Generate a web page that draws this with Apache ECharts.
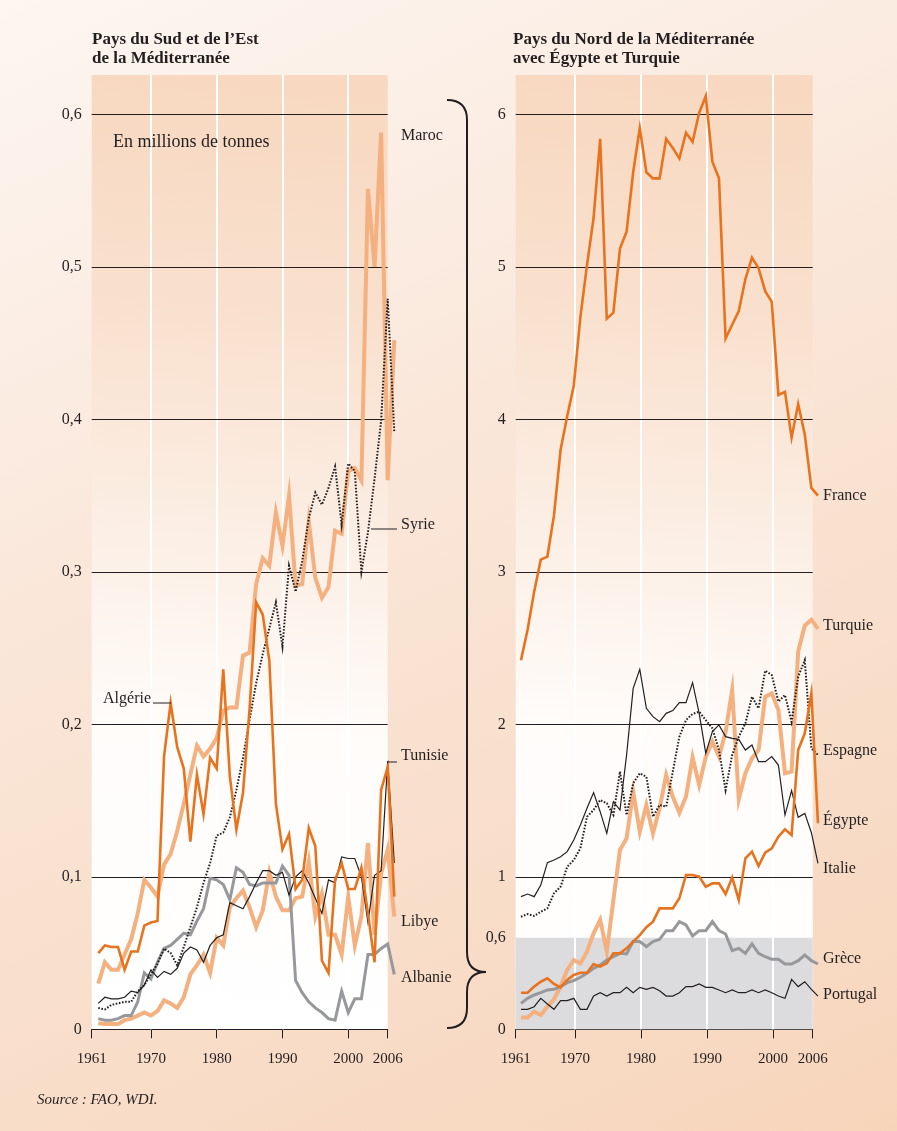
<!DOCTYPE html>
<html>
<head>
<meta charset="utf-8">
<title>Méditerranée - production</title>
<script src="https://cdn.jsdelivr.net/npm/echarts@6/dist/echarts.min.js"></script>
<style>
    html, body { margin: 0; padding: 0; }
    #chart {
        width: 897px; height: 1131px;
        background: linear-gradient(155deg, #fdf6f1 0%, #fae7da 40%, #f7d5bb 100%);
    }
</style>
</head>
<body>
<div id="chart"></div>
<script>
// years of the series (1961-2006)
var years = [1961, 1962, 1963, 1964, 1965, 1966, 1967, 1968, 1969, 1970,
    1971, 1972, 1973, 1974, 1975, 1976, 1977, 1978, 1979, 1980,
    1981, 1982, 1983, 1984, 1985, 1986, 1987, 1988, 1989, 1990,
    1991, 1992, 1993, 1994, 1995, 1996, 1997, 1998, 1999, 2000,
    2001, 2002, 2003, 2004, 2005, 2006];
var xTicks = [1961, 1970, 1980, 1990, 2000, 2006];
var leftTicks = [0, 0.1, 0.2, 0.3, 0.4, 0.5, 0.6];
var rightTicks = [0, 0.6, 1, 2, 3, 4, 5, 6];
var rightGrid = [1, 2, 3, 4, 5, 6];

// Pays du Sud et de l'Est (millions de tonnes)
var maroc = [0.030, 0.044, 0.039, 0.039, 0.049, 0.059, 0.076, 0.098, 0.093, 0.087,
    0.108, 0.115, 0.130, 0.148, 0.167, 0.186, 0.179, 0.184, 0.191, 0.209,
    0.211, 0.211, 0.245, 0.247, 0.292, 0.309, 0.304, 0.339, 0.317, 0.350,
    0.291, 0.292, 0.333, 0.296, 0.283, 0.290, 0.327, 0.325, 0.366, 0.368,
    0.360, 0.551, 0.500, 0.588, 0.360, 0.452];
var syrie = [0.014, 0.013, 0.016, 0.017, 0.018, 0.018, 0.025, 0.029, 0.036, 0.043,
    0.053, 0.050, 0.042, 0.054, 0.067, 0.080, 0.096, 0.109, 0.127, 0.129,
    0.139, 0.157, 0.178, 0.203, 0.227, 0.246, 0.263, 0.280, 0.251, 0.304,
    0.287, 0.307, 0.335, 0.352, 0.344, 0.355, 0.369, 0.331, 0.371, 0.366,
    0.300, 0.326, 0.361, 0.399, 0.479, 0.392];
var algerie = [0.050, 0.055, 0.054, 0.054, 0.039, 0.051, 0.051, 0.068, 0.070, 0.071,
    0.179, 0.214, 0.185, 0.171, 0.123, 0.167, 0.141, 0.178, 0.171, 0.236,
    0.166, 0.131, 0.155, 0.210, 0.280, 0.272, 0.242, 0.148, 0.118, 0.128,
    0.092, 0.098, 0.132, 0.120, 0.045, 0.037, 0.098, 0.109, 0.092, 0.092,
    0.106, 0.076, 0.044, 0.157, 0.172, 0.087];
var tunisie = [0.017, 0.021, 0.020, 0.020, 0.021, 0.025, 0.024, 0.029, 0.039, 0.034,
    0.038, 0.036, 0.040, 0.050, 0.054, 0.052, 0.044, 0.055, 0.060, 0.062,
    0.083, 0.081, 0.079, 0.087, 0.096, 0.104, 0.104, 0.101, 0.103, 0.088,
    0.100, 0.104, 0.096, 0.086, 0.076, 0.098, 0.096, 0.113, 0.112, 0.112,
    0.100, 0.070, 0.101, 0.104, 0.176, 0.109];
var libye = [0.004, 0.0035, 0.0035, 0.0035, 0.006, 0.007, 0.009, 0.011, 0.009, 0.012,
    0.019, 0.017, 0.014, 0.021, 0.036, 0.042, 0.049, 0.037, 0.060, 0.055,
    0.080, 0.086, 0.091, 0.080, 0.067, 0.078, 0.103, 0.087, 0.078, 0.078,
    0.086, 0.087, 0.110, 0.074, 0.089, 0.062, 0.062, 0.049, 0.087, 0.055,
    0.074, 0.122, 0.062, 0.102, 0.118, 0.074];
var albanie = [0.007, 0.006, 0.006, 0.007, 0.009, 0.009, 0.018, 0.037, 0.033, 0.044,
    0.053, 0.055, 0.059, 0.063, 0.062, 0.071, 0.079, 0.099, 0.098, 0.095,
    0.085, 0.106, 0.103, 0.095, 0.094, 0.096, 0.096, 0.096, 0.107, 0.101,
    0.032, 0.024, 0.018, 0.014, 0.011, 0.007, 0.006, 0.025, 0.011, 0.020,
    0.020, 0.049, 0.049, 0.053, 0.056, 0.036];

// Pays du Nord, Egypte et Turquie
var france = [2.42, 2.62, 2.87, 3.08, 3.10, 3.37, 3.80, 4.02, 4.22, 4.67,
    5.01, 5.32, 5.84, 4.66, 4.70, 5.12, 5.23, 5.62, 5.91, 5.62,
    5.58, 5.58, 5.84, 5.78, 5.71, 5.88, 5.82, 6.01, 6.12, 5.69,
    5.58, 4.53, 4.62, 4.71, 4.92, 5.06, 4.99, 4.84, 4.77, 4.16,
    4.18, 3.88, 4.10, 3.90, 3.55, 3.50];
var turquie = [0.078, 0.078, 0.116, 0.094, 0.148, 0.197, 0.280, 0.389, 0.454, 0.432,
    0.509, 0.629, 0.717, 0.509, 0.848, 1.176, 1.252, 1.558, 1.296, 1.471,
    1.285, 1.449, 1.668, 1.525, 1.420, 1.525, 1.783, 1.602, 1.787, 1.886,
    1.787, 1.950, 2.225, 1.508, 1.679, 1.777, 1.832, 2.181, 2.203, 2.094,
    1.679, 1.690, 2.478, 2.647, 2.686, 2.626];
var espagne = [0.738, 0.756, 0.743, 0.771, 0.793, 0.892, 0.935, 1.066, 1.110, 1.187,
    1.394, 1.438, 1.504, 1.482, 1.405, 1.690, 1.405, 1.613, 1.679, 1.656,
    1.394, 1.471, 1.460, 1.690, 1.919, 2.028, 2.068, 2.083, 2.028, 1.974,
    1.831, 1.569, 1.798, 1.919, 2.006, 2.181, 2.105, 2.352, 2.323, 2.149,
    2.192, 2.017, 2.312, 2.421, 1.842, 1.799];
var egypte = [0.240, 0.240, 0.280, 0.312, 0.334, 0.297, 0.275, 0.323, 0.356, 0.371,
    0.371, 0.428, 0.411, 0.433, 0.498, 0.498, 0.531, 0.575, 0.618, 0.669,
    0.706, 0.793, 0.793, 0.793, 0.859, 1.012, 1.012, 1.001, 0.935, 0.957,
    0.957, 0.887, 0.996, 0.848, 1.121, 1.165, 1.071, 1.158, 1.187, 1.263,
    1.311, 1.274, 1.832, 1.941, 2.203, 1.351];
var italie = [0.870, 0.887, 0.870, 0.946, 1.093, 1.110, 1.132, 1.165, 1.241, 1.340,
    1.449, 1.552, 1.427, 1.285, 1.493, 1.438, 1.798, 2.236, 2.360, 2.105,
    2.050, 2.017, 2.072, 2.090, 2.142, 2.142, 2.273, 2.072, 1.810, 1.952,
    1.996, 1.919, 1.908, 1.901, 1.831, 1.864, 1.755, 1.755, 1.788, 1.733,
    1.405, 1.565, 1.390, 1.416, 1.289, 1.088];
var grece = [0.170, 0.203, 0.225, 0.240, 0.258, 0.262, 0.280, 0.306, 0.319, 0.341,
    0.367, 0.400, 0.422, 0.454, 0.476, 0.498, 0.494, 0.575, 0.575, 0.542,
    0.575, 0.590, 0.647, 0.647, 0.706, 0.684, 0.612, 0.647, 0.647, 0.706,
    0.647, 0.625, 0.516, 0.531, 0.498, 0.560, 0.498, 0.476, 0.459, 0.459,
    0.428, 0.428, 0.450, 0.487, 0.450, 0.428];
var portugal = [0.131, 0.131, 0.148, 0.203, 0.166, 0.131, 0.188, 0.188, 0.203, 0.131,
    0.131, 0.218, 0.240, 0.218, 0.240, 0.240, 0.275, 0.240, 0.275, 0.262,
    0.275, 0.253, 0.218, 0.218, 0.240, 0.280, 0.280, 0.297, 0.275, 0.275,
    0.258, 0.240, 0.258, 0.240, 0.240, 0.258, 0.240, 0.258, 0.240, 0.218,
    0.203, 0.327, 0.280, 0.312, 0.262, 0.218];

var FONT = '"Liberation Serif", "DejaVu Serif", serif';
var INK = '#231f20';
var DARK = '#e8731e';
var LIGHT = '#f4b07e';
var GREY = '#97989b';

// panel geometry: two frames, each with a slightly wider twin grid for the curves
// (the curves sit one year step right of the printed ticks, so they overrun the frame)
var PANEL_TOP = 75, PANEL_H = 954.3;
var LEFT_X = 91.7, LEFT_W = 296;
var RIGHT_X = 515.7, RIGHT_W = 297;

function pairs(values) {
    return years.map(function (y, i) { return [y, values[i]]; });
}

function decimal(v) {
    return String(Math.round(v * 10) / 10).replace('.', ',');
}

function curve(name, values, panel, style) {
    return {
        name: name,
        type: 'line',
        xAxisIndex: panel + 2,
        yAxisIndex: panel + 2,
        data: pairs(values),
        showSymbol: false,
        symbol: 'none',
        silent: true,
        z: style.z || 5,
        lineStyle: { color: style.color, width: style.width, type: style.type || 'solid', cap: 'butt', join: 'miter' }
    };
}

function hLines(values, panel) {
    return {
        type: 'line', xAxisIndex: panel, yAxisIndex: panel, data: [], silent: true, z: 3,
        markLine: {
            silent: true, symbol: ['none', 'none'], label: { show: false },
            lineStyle: { color: INK, width: 1, type: 'solid' },
            data: values.map(function (v) { return { yAxis: v }; })
        }
    };
}

function vLines(panel) {
    return {
        type: 'line', xAxisIndex: panel, yAxisIndex: panel, data: [], silent: true, z: 2,
        markLine: {
            silent: true, symbol: ['none', 'none'], label: { show: false },
            lineStyle: { color: '#ffffff', width: 2, type: 'solid' },
            data: [1970, 1980, 1990, 2000].map(function (v) { return { xAxis: v }; })
        }
    };
}

var panelFill = {
    type: 'linear', x: 0.25, y: 0, x2: 0, y2: 1,
    colorStops: [
        { offset: 0, color: '#f8d8c0' },
        { offset: 0.25, color: '#f9e1cf' },
        { offset: 0.5, color: '#fcf0e7' },
        { offset: 0.68, color: '#fffcfa' },
        { offset: 1, color: '#ffffff' }
    ]
};

function visibleX(panel) {
    return {
        type: 'value', gridIndex: panel, min: 1961, max: 2006,
        axisLine: { show: true, lineStyle: { color: INK, width: 1 } },
        axisTick: { show: true, length: 9, customValues: xTicks, lineStyle: { color: INK, width: 1 } },
        axisLabel: {
            customValues: xTicks, margin: 22, color: INK, fontFamily: FONT, fontSize: 15,
            formatter: function (v) { return String(v); }
        },
        splitLine: { show: false }
    };
}

function dataX(panel) {
    return { type: 'value', gridIndex: panel + 2, min: 1960, max: 2007, show: false };
}

function yAxisFor(panel, max, ticks) {
    return {
        type: 'value', gridIndex: panel, min: 0, max: max,
        axisLine: { show: false }, axisTick: { show: false }, splitLine: { show: false },
        axisLabel: {
            customValues: ticks, margin: 10, color: INK, fontFamily: FONT, fontSize: 16,
            padding: [0, 0, 5, 0], formatter: decimal
        }
    };
}

function dataY(panel, max) {
    return { type: 'value', gridIndex: panel + 2, min: 0, max: max, show: false };
}

function txt(text, x, y, opts) {
    opts = opts || {};
    return {
        type: 'text', x: x, y: y, silent: true, z: 20,
        style: {
            text: text, fill: INK,
            font: (opts.style || 'normal') + ' ' + (opts.weight || 'normal') + ' ' + (opts.size || 16) + 'px ' + FONT,
            align: opts.align || 'left', verticalAlign: opts.va || 'middle',
            lineHeight: opts.lh || 19
        }
    };
}

function seg(x1, y1, x2, y2, w) {
    return { type: 'line', silent: true, z: 20, shape: { x1: x1, y1: y1, x2: x2, y2: y2 }, style: { stroke: INK, lineWidth: w || 1 } };
}

function hook(x1, y1, cx, cy, x2, y2) {
    return {
        type: 'bezierCurve', silent: true, z: 20,
        shape: { x1: x1, y1: y1, cpx1: cx, cpy1: cy, x2: x2, y2: y2 },
        style: { stroke: INK, lineWidth: 2, fill: null }
    };
}

var myChart = echarts.init(document.getElementById('chart'));
var option = {
    animation: false,
    backgroundColor: 'transparent',
    grid: [
        { left: LEFT_X, top: PANEL_TOP, width: LEFT_W, height: PANEL_H, show: true, borderWidth: 0, backgroundColor: panelFill },
        { left: RIGHT_X, top: PANEL_TOP, width: RIGHT_W, height: PANEL_H, show: true, borderWidth: 0, backgroundColor: panelFill },
        // 1960 sits on the frame edge (left) or just inside it (right)
        { left: LEFT_X, top: PANEL_TOP, width: LEFT_W * 47 / 45, height: PANEL_H },
        { left: RIGHT_X - RIGHT_W / 45 * 0.2, top: PANEL_TOP, width: RIGHT_W * 47 / 45, height: PANEL_H }
    ],
    xAxis: [visibleX(0), visibleX(1), dataX(0), dataX(1)],
    yAxis: [yAxisFor(0, 0.6258, leftTicks), yAxisFor(1, 6.258, rightTicks), dataY(0, 0.6258), dataY(1, 6.258)],
    series: [
        {
            type: 'line', xAxisIndex: 1, yAxisIndex: 1, data: [], silent: true, z: 1,
            markArea: {
                silent: true, itemStyle: { color: '#dcdcde' }, label: { show: false },
                data: [[{ yAxis: 0 }, { yAxis: 0.6 }]]
            }
        },
        vLines(0), vLines(1),
        hLines([0.1, 0.2, 0.3, 0.4, 0.5, 0.6], 0),
        hLines(rightGrid, 1),

        curve('Maroc', maroc, 0, { color: LIGHT, width: 4 }),
        curve('Libye', libye, 0, { color: LIGHT, width: 4 }),
        curve('Albanie', albanie, 0, { color: GREY, width: 3 }),
        curve('Tunisie', tunisie, 0, { color: INK, width: 1.2 }),
        curve('Syrie', syrie, 0, { color: INK, width: 2, type: [1.6, 1.6] }),
        curve('Algérie', algerie, 0, { color: DARK, width: 2.6, z: 6 }),

        curve('Turquie', turquie, 1, { color: LIGHT, width: 4 }),
        curve('Grèce', grece, 1, { color: GREY, width: 3 }),
        curve('Italie', italie, 1, { color: INK, width: 1.2 }),
        curve('Portugal', portugal, 1, { color: INK, width: 1.2 }),
        curve('Espagne', espagne, 1, { color: INK, width: 2, type: [1.6, 1.6] }),
        curve('Égypte', egypte, 1, { color: DARK, width: 2.6, z: 6 }),
        curve('France', france, 1, { color: DARK, width: 2.6, z: 6 })
    ],
    graphic: [
        txt('Pays du Sud et de l\u2019Est\nde la Méditerranée', 92, 30, { weight: 'bold', size: 17, va: 'top' }),
        txt('Pays du Nord de la Méditerranée\navec Égypte et Turquie', 513, 30, { weight: 'bold', size: 17, va: 'top' }),
        txt('En millions de tonnes', 113, 142, { size: 18 }),

        txt('Maroc', 401, 136), txt('Syrie', 401, 525), txt('Tunisie', 401, 756),
        txt('Libye', 401, 922), txt('Albanie', 401, 978),
        txt('Algérie', 151, 699, { align: 'right' }),
        seg(153, 703, 171, 703), seg(371, 529, 397, 529), seg(387, 762, 397, 762),

        txt('France', 823, 496), txt('Turquie', 823, 626), txt('Espagne', 823, 751),
        txt('Égypte', 823, 821), txt('Italie', 823, 869), txt('Grèce', 823, 959),
        txt('Portugal', 823, 995),

        // accolade between the two panels
        hook(447, 100, 467, 100, 467, 120),
        seg(467, 120, 467, 952, 2),
        hook(467, 952, 467, 972, 486, 972),
        hook(486, 972, 467, 972, 467, 992),
        seg(467, 992, 467, 1008, 2),
        hook(467, 1008, 467, 1028, 447, 1028),

        txt('Source : FAO, WDI.', 37, 1100, { style: 'italic', size: 15 })
    ]
};
myChart.setOption(option);
</script>
</body>
</html>
